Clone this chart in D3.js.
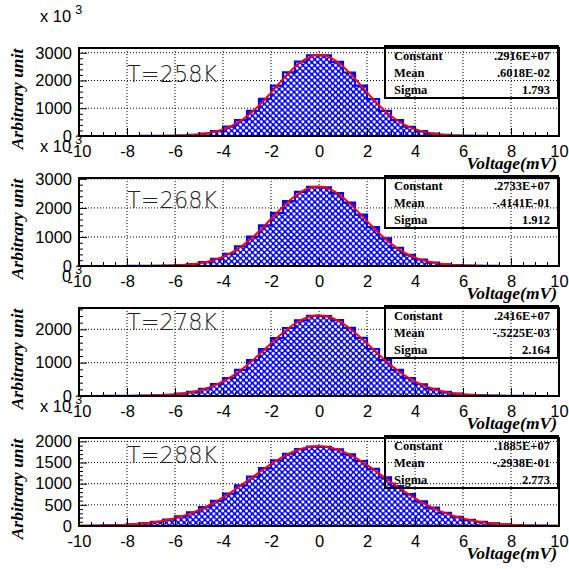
<!DOCTYPE html>
<html><head><meta charset="utf-8">
<script src="https://cdn.jsdelivr.net/npm/d3@7"></script>
<style>body{margin:0;background:#fff}svg{display:block}</style>
</head><body><svg id="c" width="569" height="569"></svg>
<script>
// ---- data ----
const temperatures = ["T=258K", "T=268K", "T=278K", "T=288K"];
const constantLabels = [".2916E+07", ".2733E+07", ".2416E+07", ".1885E+07"];
const meanLabels = [".6018E-02", "-.4141E-01", "-.5225E-03", "-.2938E-01"];
const sigmaLabels = ["1.793", "1.912", "2.164", "2.773"];
const fitConstant = [2916, 2733, 2416, 1885];          // in units of 10^3
const fitMean = [0.006018, -0.04141, -0.0005225, -0.02938];
const fitSigma = [1.793, 1.912, 2.164, 2.773];
const yMax = [3170, 3030, 2640, 2080];
const yMajorTicks = [[0, 1000, 2000, 3000], [0, 1000, 2000, 3000], [0, 1000, 2000], [0, 500, 1000, 1500, 2000]];
const yMinorStep = [200, 200, 200, 100];
const xTicks = [-10, -8, -6, -4, -2, 0, 2, 4, 6, 8, 10];
const binLow = [-10, -9.5, -9, -8.5, -8, -7.5, -7, -6.5, -6, -5.5, -5, -4.5, -4, -3.5, -3, -2.5, -2, -1.5, -1, -0.5,
                0, 0.5, 1, 1.5, 2, 2.5, 3, 3.5, 4, 4.5, 5, 5.5, 6, 6.5, 7, 7.5, 8, 8.5, 9, 9.5];
const binWidth = 0.5;
const counts258 = [0, 0, 0, 0, 0.3, 1, 3, 8, 18, 42, 90, 181, 338, 574, 910, 1335, 1818, 2290, 2678, 2908,
                   2902, 2672, 2287, 1812, 1330, 905, 570, 333, 178, 89, 41, 17, 7, 2.5, 0.8, 0.3, 0, 0, 0, 0];
const counts268 = [0, 0, 0.2, 0.5, 1, 2, 6, 14, 33, 69, 135, 247, 422, 675, 1008, 1402, 1830, 2235, 2550, 2722,
                   2706, 2510, 2180, 1766, 1338, 948, 628, 388, 224, 121, 60, 28, 12, 5, 2, 0.8, 0.3, 0.1, 0, 0];
const counts278 = [0, 0.2, 1, 2, 4, 9, 19, 38, 72, 128, 218, 354, 540, 784, 1080, 1405, 1740, 2040, 2272, 2402,
                   2398, 2276, 2046, 1745, 1410, 1078, 782, 538, 352, 217, 126, 70, 37, 19, 9, 4, 2, 1, 0.2, 0];
const counts288 = [4, 7, 13, 23, 40, 64, 101, 153, 226, 322, 446, 595, 768, 962, 1166, 1368, 1553, 1708, 1818, 1876,
                   1872, 1810, 1693, 1536, 1350, 1148, 945, 755, 580, 433, 312, 218, 148, 97, 62, 38, 22, 12, 7, 4];
const panelCounts = [counts258, counts268, counts278, counts288];

// ---- layout ----
const svg = d3.select("#c");
const frameLeft = 79, frameRight = 559, frameH = 88;
const frameTops = [48, 178, 308, 438];
const tLabelOffset = [34, 30, 22, 25];
const blue = "#0000ff";

const defs = svg.append("defs");
const pat = defs.append("pattern").attr("id", "hatch").attr("patternUnits", "userSpaceOnUse")
  .attr("width", 4.2).attr("height", 4.2).attr("patternTransform", "rotate(45)");
pat.append("rect").attr("width", 4.2).attr("height", 4.2).attr("fill", blue);
pat.append("circle").attr("cx", 2.1).attr("cy", 2.1).attr("r", 1.55).attr("fill", "#fff");

const x = d3.scaleLinear().domain([-10, 10]).range([frameLeft, frameRight]);

panelCounts.forEach((counts, i) => {
  const top = frameTops[i], bottom = top + frameH;
  const y = d3.scaleLinear().domain([0, yMax[i]]).range([bottom, top]);
  const g = svg.append("g");

  defs.append("clipPath").attr("id", "clip" + i).append("rect")
    .attr("x", frameLeft).attr("y", top).attr("width", frameRight - frameLeft).attr("height", frameH);

  // grid
  g.append("g").selectAll("line").data(xTicks.filter(v => v > -10 && v < 10)).join("line")
    .attr("x1", d => x(d)).attr("x2", d => x(d)).attr("y1", top).attr("y2", bottom)
    .attr("stroke", "#000").attr("stroke-width", 1).attr("stroke-dasharray", "1,2");
  g.append("g").selectAll("line").data(yMajorTicks[i].filter(v => v > 0)).join("line")
    .attr("x1", frameLeft).attr("x2", frameRight).attr("y1", d => y(d)).attr("y2", d => y(d))
    .attr("stroke", "#000").attr("stroke-width", 1).attr("stroke-dasharray", "1,2");

  // histogram
  const p = d3.path();
  p.moveTo(x(binLow[0]), y(0));
  counts.forEach((v, k) => {
    p.lineTo(x(binLow[k]), y(v));
    p.lineTo(x(binLow[k] + binWidth), y(v));
  });
  p.lineTo(x(binLow[binLow.length - 1] + binWidth), y(0));
  p.closePath();
  g.append("path").attr("d", p.toString()).attr("fill", "url(#hatch)")
    .attr("stroke", blue).attr("stroke-width", 2.2).attr("stroke-linejoin", "miter")
    .attr("clip-path", `url(#clip${i})`);

  // fit curve
  const xs = d3.range(-10, 10.0001, 0.05);
  const line = d3.line().x(d => x(d)).y(d => y(fitConstant[i] * Math.exp(-0.5 * Math.pow((d - fitMean[i]) / fitSigma[i], 2))));
  g.append("path").datum(xs).attr("d", line).attr("fill", "none").attr("stroke", "#ff0000")
    .attr("stroke-width", 2).attr("clip-path", `url(#clip${i})`);

  // axes
  const fontAxis = a => a.selectAll("text").attr("font-family", "'Liberation Sans', Arial, sans-serif")
    .attr("font-size", 16.5).attr("fill", "#000");
  const xMinor = d3.range(-10, 10.001, 0.5).filter(v => xTicks.indexOf(v) < 0);
  g.append("g").attr("transform", `translate(0,${bottom})`)
    .call(d3.axisBottom(x).tickValues(xMinor).tickSize(-4).tickFormat(""))
    .call(a => a.select(".domain").remove());
  g.append("g").attr("transform", `translate(0,${bottom})`)
    .call(d3.axisBottom(x).tickValues(xTicks).tickSize(-8).tickPadding(9).tickFormat(d => String(d)))
    .call(a => a.select(".domain").remove()).call(fontAxis);

  const yMinor = d3.range(0, yMax[i], yMinorStep[i]).filter(v => yMajorTicks[i].indexOf(v) < 0);
  g.append("g").attr("transform", `translate(${frameLeft},0)`)
    .call(d3.axisLeft(y).tickValues(yMinor).tickSize(-4).tickFormat(""))
    .call(a => a.select(".domain").remove());
  g.append("g").attr("transform", `translate(${frameLeft},0)`)
    .call(d3.axisLeft(y).tickValues(yMajorTicks[i]).tickSize(-8).tickPadding(7).tickFormat(d => String(d)))
    .call(a => a.select(".domain").remove()).call(fontAxis);
  g.selectAll(".tick line").attr("stroke", "#000").attr("stroke-width", 1);

  // frame
  g.append("rect").attr("x", frameLeft).attr("y", top).attr("width", frameRight - frameLeft).attr("height", frameH)
    .attr("fill", "none").attr("stroke", "#000").attr("stroke-width", 2);

  // multiplier
  const mult = g.append("text").attr("x", 40).attr("y", top - 26)
    .attr("font-family", "'Liberation Sans', Arial, sans-serif").attr("font-size", 16.5).attr("fill", "#000");
  mult.append("tspan").text("x 10");
  mult.append("tspan").attr("dx", 4).attr("dy", -8).attr("font-size", 12.5).text("3");
  if (i === 2) {
    defs.append("clipPath").attr("id", "multclip").append("rect").attr("x", 61).attr("y", top - 50).attr("width", 60).attr("height", 40);
    mult.attr("clip-path", "url(#multclip)");
  }

  // temperature label
  g.append("text").attr("x", 127).attr("y", top + tLabelOffset[i])
    .attr("font-family", "'DejaVu Sans', sans-serif").attr("font-weight", 200).attr("font-size", 22.5)
    .attr("fill", "#222").text(temperatures[i]);

  // x title
  g.append("text").attr("x", 557).attr("y", bottom + 33).attr("text-anchor", "end")
    .attr("font-family", "'Liberation Serif', 'Times New Roman', serif").attr("font-weight", "bold")
    .attr("font-style", "italic").attr("font-size", 17.5).attr("fill", "#000").text("Voltage(mV)");

  // y title
  g.append("text").attr("transform", `translate(23,${top + frameH / 2 + 7}) rotate(-90)`).attr("text-anchor", "middle")
    .attr("font-family", "'Liberation Serif', 'Times New Roman', serif").attr("font-weight", "bold")
    .attr("font-style", "italic").attr("font-size", 17.5).attr("fill", "#000").text("Arbitrary unit");

  // stats box
  const bx = 385, bw = 173, by = top - 2, bh = 52;
  g.append("rect").attr("x", bx).attr("y", by).attr("width", bw).attr("height", bh)
    .attr("fill", "none").attr("stroke", "#000").attr("stroke-width", 2);
  const rows = [["Constant", constantLabels[i]], ["Mean", meanLabels[i]], ["Sigma", sigmaLabels[i]]];
  rows.forEach((r, k) => {
    const ty = by + 14 + k * 17;
    g.append("text").attr("x", bx + 9).attr("y", ty).attr("font-family", "'Liberation Serif', 'Times New Roman', serif")
      .attr("font-weight", "bold").attr("font-size", 12.5).attr("fill", "#000").text(r[0]);
    g.append("text").attr("x", bx + bw - 8).attr("y", ty).attr("text-anchor", "end")
      .attr("font-family", "'Liberation Serif', 'Times New Roman', serif")
      .attr("font-weight", "bold").attr("font-size", 12.5).attr("fill", "#000").text(r[1]);
  });
});
</script>
</body></html>
